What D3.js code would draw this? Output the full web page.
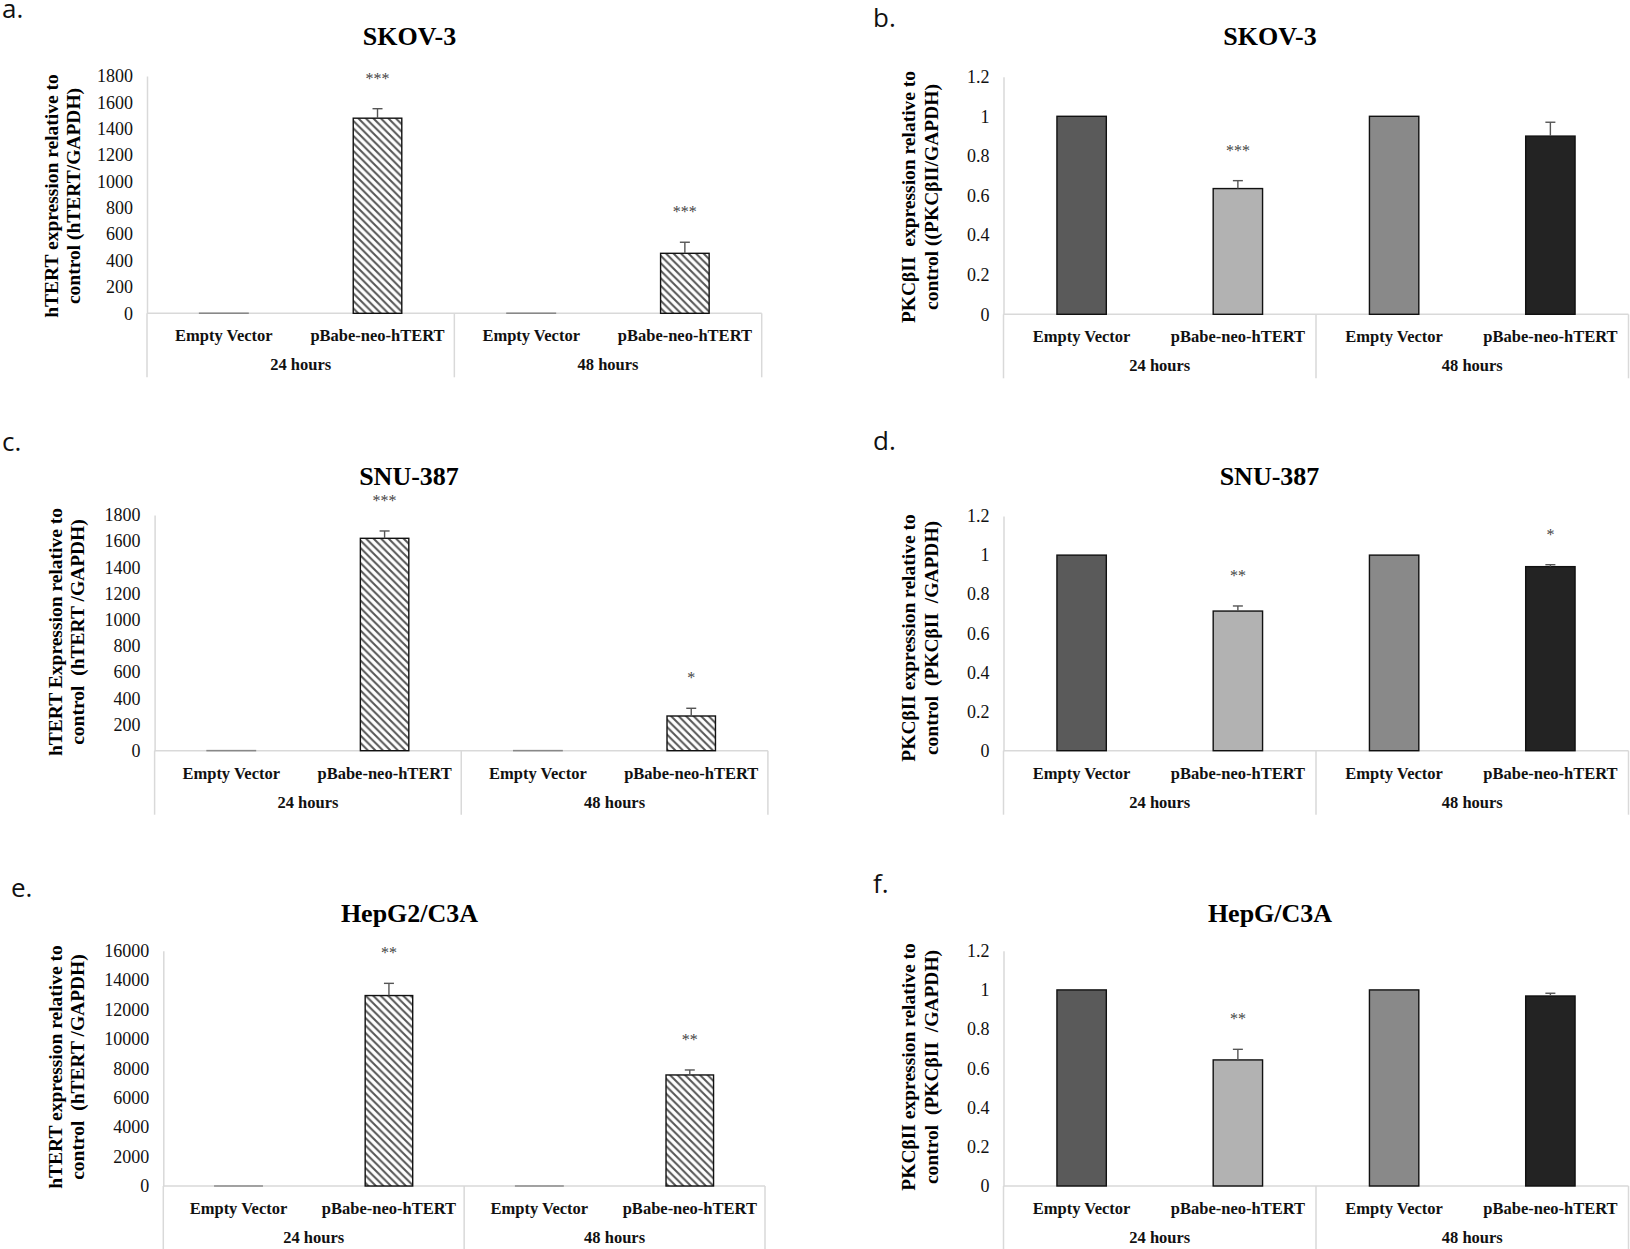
<!DOCTYPE html>
<html><head><meta charset="utf-8">
<script src="https://cdn.jsdelivr.net/npm/d3@7"></script>
<style>body{margin:0;background:#fff} svg{display:block}</style>
</head><body><svg id="chart" width="1630" height="1249"></svg>
<script>
// ---------- DATA ----------
const categories = ["Empty Vector", "pBabe-neo-hTERT", "Empty Vector", "pBabe-neo-hTERT"];
const groups = ["24 hours", "48 hours"];
const panelLetters = ["a.", "b.", "c.", "d.", "e.", "f."];
const titles = ["SKOV-3", "SKOV-3", "SNU-387", "SNU-387", "HepG2/C3A", "HepG/C3A"];

const yLabelLine1 = [
  "hTERT expression relative to",
  "PKC\u03B2II  expression relative to",
  "hTERT Expression relative to",
  "PKC\u03B2II expression relative to",
  "hTERT expression relative to",
  "PKC\u03B2II expression relative to"
];
const yLabelLine2 = [
  "control (hTERT/GAPDH)",
  "control ((PKC\u03B2II/GAPDH)",
  "control  (hTERT /GAPDH)",
  "control  (PKC\u03B2II  /GAPDH)",
  "control  (hTERT /GAPDH)",
  "control  (PKC\u03B2II  /GAPDH)"
];

const ticksHTERT = [0, 200, 400, 600, 800, 1000, 1200, 1400, 1600, 1800];
const ticksHepG2 = [0, 2000, 4000, 6000, 8000, 10000, 12000, 14000, 16000];
const ticksPKC = [0, 0.2, 0.4, 0.6, 0.8, 1, 1.2];

// panel a: SKOV-3 hTERT
const skov3HTERT = [1, 1480, 1, 455];
const skov3HTERTErr = [0, 72, 0, 84];
const skov3HTERTSig = ["", "***", "", "***"];
// panel b: SKOV-3 PKCbII
const skov3PKC = [1, 0.635, 1, 0.90];
const skov3PKCErr = [0, 0.04, 0, 0.07];
const skov3PKCSig = ["", "***", "", ""];
// panel c: SNU-387 hTERT
const snuHTERT = [1, 1622, 1, 265];
const snuHTERTErr = [0, 56, 0, 59];
const snuHTERTSig = ["", "***", "", "*"];
// panel d: SNU-387 PKCbII
const snuPKC = [1, 0.714, 1, 0.941];
const snuPKCErr = [0, 0.026, 0, 0.01];
const snuPKCSig = ["", "**", "", "*"];
// panel e: HepG2/C3A hTERT
const hepHTERT = [1, 12950, 1, 7550];
const hepHTERTErr = [0, 830, 0, 340];
const hepHTERTSig = ["", "**", "", "**"];
// panel f: HepG/C3A PKCbII
const hepPKC = [1, 0.643, 1, 0.969];
const hepPKCErr = [0, 0.054, 0, 0.014];
const hepPKCSig = ["", "**", "", ""];

const panels = [
  {values: skov3HTERT, err: skov3HTERTErr, sig: skov3HTERTSig, ticks: ticksHTERT, kind: "hatch"},
  {values: skov3PKC, err: skov3PKCErr, sig: skov3PKCSig, ticks: ticksPKC, kind: "solid"},
  {values: snuHTERT, err: snuHTERTErr, sig: snuHTERTSig, ticks: ticksHTERT, kind: "hatch"},
  {values: snuPKC, err: snuPKCErr, sig: snuPKCSig, ticks: ticksPKC, kind: "solid"},
  {values: hepHTERT, err: hepHTERTErr, sig: hepHTERTSig, ticks: ticksHepG2, kind: "hatch"},
  {values: hepPKC, err: hepPKCErr, sig: hepPKCSig, ticks: ticksPKC, kind: "solid"}
];

// ---------- LAYOUT / STYLE ----------
const solidColors = ["#5a5a5a", "#b2b2b2", "#898989", "#232323"];
const layout = [
  {x0: 147,    x1: 761.7,  y0: 313.3, yTop: 76,    lab: [2, 18],    tx: 409.5, ty: 45,  yl1: 58,  yl2: 80,  ylc: 196},
  {x0: 1003.5, x1: 1628.5, y0: 314.3, yTop: 76.7,  lab: [873, 27],  tx: 1270,  ty: 45,  yl1: 915, yl2: 938, ylc: 197},
  {x0: 154.6,  x1: 767.9,  y0: 750.7, yTop: 515,   lab: [2, 451],   tx: 409,   ty: 485, yl1: 62,  yl2: 84,  ylc: 632},
  {x0: 1003.5, x1: 1628.5, y0: 750.7, yTop: 516,   lab: [873, 450], tx: 1269.5,ty: 485, yl1: 915, yl2: 938, ylc: 638},
  {x0: 163.3,  x1: 765,    y0: 1186,  yTop: 950.7, lab: [11, 897],  tx: 409.5, ty: 922, yl1: 62,  yl2: 84,  ylc: 1067},
  {x0: 1003.5, x1: 1628.5, y0: 1186,  yTop: 950.7, lab: [873, 893], tx: 1270,  ty: 922, yl1: 915, yl2: 938, ylc: 1067}
];

const serif = "'Liberation Serif', 'Times New Roman', serif";
const svg = d3.select("#chart");

// hatch pattern
const defs = svg.append("defs");
const pat = defs.append("pattern")
  .attr("id", "hatch").attr("patternUnits", "userSpaceOnUse")
  .attr("width", 7.5).attr("height", 7.5);
pat.append("rect").attr("width", 7.5).attr("height", 7.5).attr("fill", "#fff");
pat.append("path").attr("d", "M-2,-2 L9.5,9.5 M-2,5.5 L2,9.5 M5.5,-2 L9.5,2")
  .attr("stroke", "#555").attr("stroke-width", 2);

panels.forEach((p, pi) => {
  const L = layout[pi];
  const g = svg.append("g");
  const y = d3.scaleLinear().domain([0, d3.max(p.ticks)]).range([L.y0, L.yTop]);
  const x = d3.scaleBand().domain(d3.range(categories.length)).range([L.x0, L.x1])
    .paddingInner(0.684).paddingOuter(0.342);
  const xg = d3.scaleBand().domain(groups).range([L.x0, L.x1]);

  // panel letter
  g.append("text").attr("x", L.lab[0]).attr("y", L.lab[1])
    .attr("font-family", "'Open Sans', 'Noto Sans', sans-serif").attr("font-size", 26)
    .attr("fill", "#111").text(panelLetters[pi]);

  // title
  g.append("text").attr("x", L.tx).attr("y", L.ty).attr("text-anchor", "middle")
    .attr("font-family", serif).attr("font-weight", "bold").attr("font-size", 26)
    .attr("fill", "#000").text(titles[pi]);

  // y axis label
  [[yLabelLine1[pi], L.yl1], [yLabelLine2[pi], L.yl2]].forEach(([t, bx]) => {
    g.append("text").attr("transform", `translate(${bx},${L.ylc}) rotate(-90)`)
      .attr("text-anchor", "middle").attr("font-family", serif).attr("font-weight", "bold")
      .attr("font-size", 19.5).attr("fill", "#000").style("white-space", "pre").text(t);
  });

  // y axis
  const ya = g.append("g").attr("transform", `translate(${L.x0},0)`)
    .call(d3.axisLeft(y).tickValues(p.ticks).tickFormat(d3.format("~g"))
      .tickSize(0).tickSizeOuter(0).tickPadding(14));
  ya.attr("font-family", serif).attr("font-size", 18);
  ya.select(".domain").attr("stroke", "#d9d9d9").attr("stroke-width", 1.5);
  ya.selectAll("text").attr("fill", "#111");

  // x axis (categories)
  const xa = g.append("g").attr("transform", `translate(0,${L.y0})`)
    .call(d3.axisBottom(x).tickFormat(i => categories[i]).tickSize(0).tickSizeOuter(0));
  xa.attr("font-family", serif).attr("font-size", 16.5).attr("font-weight", "bold");
  xa.select(".domain").attr("stroke", "#d9d9d9").attr("stroke-width", 1.5)
    .attr("d", `M${L.x0},0H${L.x1}`);
  xa.selectAll("text").attr("y", 28).attr("dy", null).attr("fill", "#111");

  // group separators and labels
  const bounds = groups.map(gr => xg(gr)).concat([L.x1]);
  g.selectAll(null).data(bounds).enter().append("line")
    .attr("x1", d => d).attr("x2", d => d)
    .attr("y1", L.y0).attr("y2", L.y0 + 64)
    .attr("stroke", "#d9d9d9").attr("stroke-width", 1.5);
  g.selectAll(null).data(groups).enter().append("text")
    .attr("x", d => xg(d) + xg.bandwidth() / 2).attr("y", L.y0 + 57)
    .attr("text-anchor", "middle").attr("font-family", serif).attr("font-weight", "bold")
    .attr("font-size", 16.5).attr("fill", "#111").text(d => d);

  // bars
  g.selectAll(null).data(p.values).enter().append("rect")
    .attr("x", (d, i) => x(i)).attr("width", x.bandwidth())
    .attr("y", d => y(d)).attr("height", d => y(0) - y(d))
    .attr("fill", (d, i) => p.kind === "hatch" ? "url(#hatch)" : solidColors[i])
    .attr("stroke", (d, i) => (p.kind === "hatch" && d < d3.max(p.ticks) * 0.01) ? "#888" : "#111")
    .attr("stroke-width", 1.4);

  // error bars (plus direction)
  p.values.forEach((v, i) => {
    const cx = x(i) + x.bandwidth() / 2;
    const top = y(v + p.err[i]);
    if (p.err[i] > 0) {
      g.append("line").attr("x1", cx).attr("x2", cx).attr("y1", y(v)).attr("y2", top)
        .attr("stroke", "#555").attr("stroke-width", 1.4);
      g.append("line").attr("x1", cx - 5).attr("x2", cx + 5).attr("y1", top).attr("y2", top)
        .attr("stroke", "#555").attr("stroke-width", 1.4);
    }
    if (p.sig[i]) {
      g.append("text").attr("x", cx).attr("y", top - 25).attr("text-anchor", "middle")
        .attr("font-family", serif).attr("font-size", 16).attr("fill", "#444")
        .text(p.sig[i]);
    }
  });
});
</script>
</body></html>
